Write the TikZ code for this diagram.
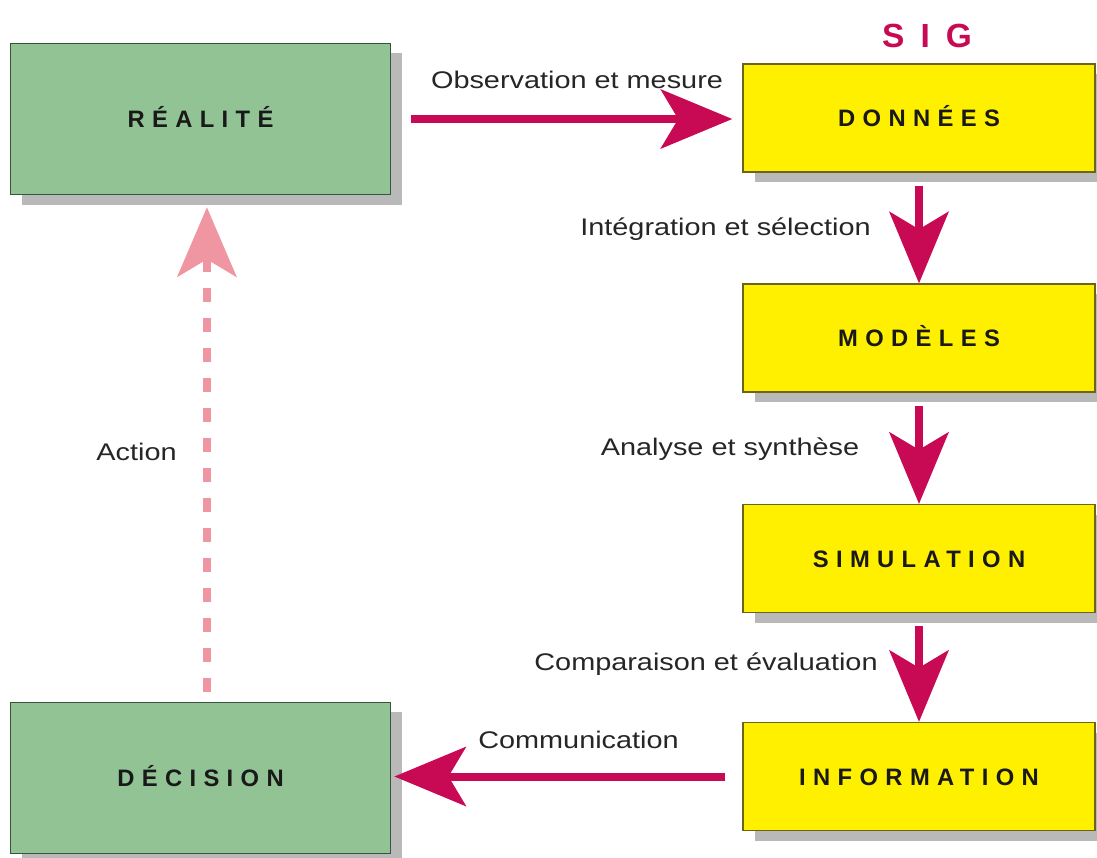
\documentclass[tikz,border=0pt]{standalone}
\usepackage{fontspec}
\setmainfont{Liberation Sans}
\newfontfamily\lblfont[FakeStretch=1.2]{Liberation Sans}
\newfontfamily\boxfont[LetterSpace=31]{Liberation Sans}
\newfontfamily\sigfont[LetterSpace=48]{Liberation Sans}
\usetikzlibrary{positioning,arrows.meta,shadows,calc}
\definecolor{vert}{RGB}{145,195,148}
\definecolor{vertfonce}{RGB}{55,85,60}
\definecolor{jaune}{RGB}{255,240,0}
\definecolor{olive}{RGB}{110,100,25}
\definecolor{ombre}{RGB}{185,185,185}
\definecolor{fleche}{RGB}{200,10,85}
\definecolor{rose}{RGB}{240,150,162}
\tikzset{
boite/.style={draw, line width=1pt,
  font=\boxfont\bfseries\fontsize{16.9}{20}\selectfont,
  text height=12.1pt, text depth=0pt, align=center, text=black!90,
  drop shadow={shadow xshift=0.29cm, shadow yshift=-0.25cm, fill=ombre, opacity=1}},
vertbox/.style={boite, fill=vert, draw=vertfonce, minimum width=9.5cm, minimum height=3.78cm},
jaunebox/.style={boite, fill=jaune, draw=olive, minimum width=8.8cm, minimum height=2.7cm},
lbl/.style={font=\lblfont\fontsize{17.1}{20}\selectfont, inner sep=0pt, anchor=base, text=black!85},
flow/.style={draw=fleche, line width=0.2cm,
  -{Stealth[length=1.8cm, width=1.5cm, inset=0.45cm, line width=0pt]}},
act/.style={draw=rose, line width=0.18cm, dash pattern=on 0.35cm off 0.4cm,
  -{Stealth[length=1.75cm, width=1.5cm, inset=0.45cm, line width=0pt]}},
}
\begin{document}
\begin{tikzpicture}[x=0.025cm, y=-0.025cm]
\useasboundingbox (0,0) rectangle (1097,857);
\node[vertbox] (realite) at (200.5,119) {RÉALITÉ};
\node[jaunebox] (donnees) at (919,118) {DONNÉES};
\node[jaunebox] (modeles) at (919,338) {MODÈLES};
\node[jaunebox] (simulation) at (919,558.5) {SIMULATION};
\node[jaunebox] (information) at (919,776.5) {INFORMATION};
\node[vertbox] (decision) at (200.5,778) {DÉCISION};
\node[font=\sigfont\bfseries\fontsize{23.8}{28}\selectfont, text=fleche, anchor=base, inner sep=0pt] (sig) at (927,47) {SIG};

\draw[flow, shorten <=0.5cm, shorten >=0.25cm] (realite.east) -- (realite.east -| donnees.west);
\draw[flow, shorten <=0.32cm] (donnees.south) -- (modeles.north);
\draw[flow, shorten <=0.32cm] (modeles.south) -- (simulation.north);
\draw[flow, shorten <=0.32cm] (simulation.south) -- (information.north);
\draw[flow, shorten <=0.42cm, shorten >=0.08cm] (information.west) -- (information.west -| decision.east);
\draw[act, shorten <=0.25cm, shorten >=0.3cm] ([xshift=0.16cm]decision.north) -- ([xshift=0.16cm]realite.south);

\node[lbl] (obs) at (577,88) {Observation et mesure};
\node[lbl] (integ) at (725.5,235) {Intégration et sélection};
\node[lbl] (analyse) at (730,455) {Analyse et synthèse};
\node[lbl] (compar) at (706,670) {Comparaison et évaluation};
\node[lbl] (comm) at (578.5,748) {Communication};
\node[lbl] (action) at (136.5,460) {Action};
\end{tikzpicture}
\end{document}
